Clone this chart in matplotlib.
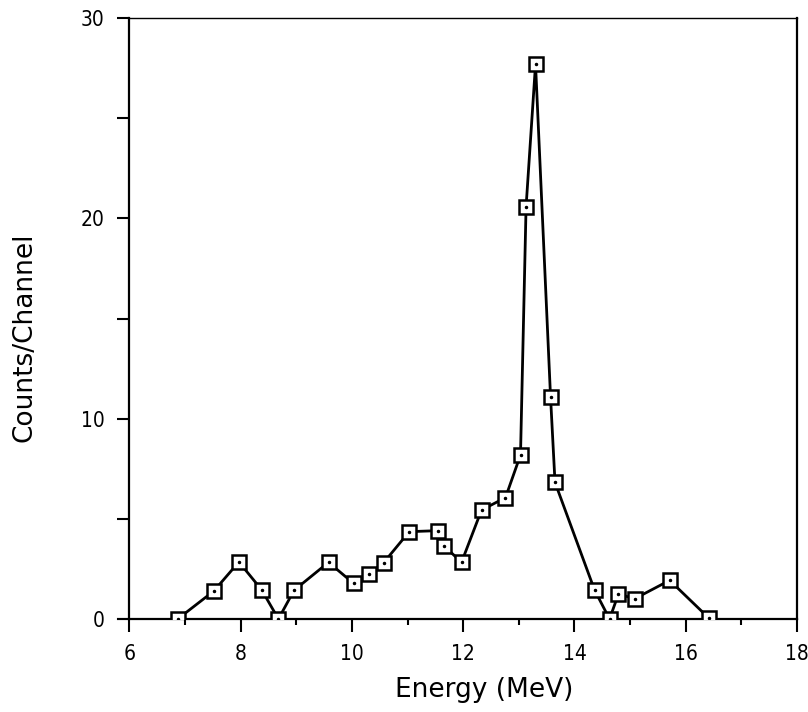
import matplotlib
matplotlib.use("Agg")
import matplotlib.pyplot as plt
from matplotlib.ticker import MultipleLocator

plt.rcParams['font.family'] = ['DejaVu Sans']
plt.rcParams['font.stretch'] = 'condensed'

energy = [6.87, 7.52, 7.97, 8.38, 8.68, 8.96, 9.58, 10.03, 10.30, 10.57,
          11.03, 11.54, 11.66, 11.97, 12.33, 12.76, 13.03, 13.13, 13.30,
          13.57, 13.65, 14.36, 14.63, 14.79, 15.08, 15.71, 16.42]
counts = [0.0, 1.4, 2.85, 1.45, 0.0, 1.43, 2.83, 1.78, 2.23, 2.81,
          4.36, 4.41, 3.64, 2.83, 5.44, 6.06, 8.19, 20.58, 27.69,
          11.07, 6.82, 1.45, 0.0, 1.25, 1.01, 1.93, 0.03]

xticks = [6, 8, 10, 12, 14, 16, 18]
yticks = [0, 10, 20, 30]

fig = plt.figure(figsize=(8.08, 7.12), dpi=100)
ax = fig.add_axes([0.16, 0.1306, 0.8265, 0.8441])

ax.plot(energy, counts, color='black', lw=2.0, zorder=2)
ax.plot(energy, counts, ls='none', marker='s', ms=10, mfc='white',
        mec='black', mew=1.8, zorder=3)
ax.plot(energy, counts, ls='none', marker='.', ms=3, color='black', zorder=4)

ax.set_xlim(6, 18)
ax.set_ylim(0, 30)
ax.set_xticks(xticks)
ax.set_yticks(yticks)
ax.xaxis.set_minor_locator(MultipleLocator(1))
ax.yaxis.set_minor_locator(MultipleLocator(5))

ax.tick_params(axis='both', which='major', direction='out', length=9,
               width=1.5, labelsize=15, pad=9)
ax.tick_params(axis='x', which='minor', direction='out', length=4, width=1.5)
ax.tick_params(axis='y', which='minor', direction='out', length=9, width=1.5)

for side in ['left', 'bottom', 'right']:
    ax.spines[side].set_linewidth(1.6)
ax.spines['top'].set_linewidth(1.0)

# extension of the zero line to the left of the y axis
ax.plot([5.79, 6.0], [0, 0], color='black', lw=1.5, clip_on=False)

ax.set_xlabel('Energy (MeV)', fontsize=19, fontstretch='normal')
ax.set_ylabel('Counts/Channel', fontsize=19, fontstretch='normal')
ax.xaxis.set_label_coords(0.531, -0.097)
ax.yaxis.set_label_coords(-0.137, 0.468)

fig.savefig('out.png', dpi=100)
